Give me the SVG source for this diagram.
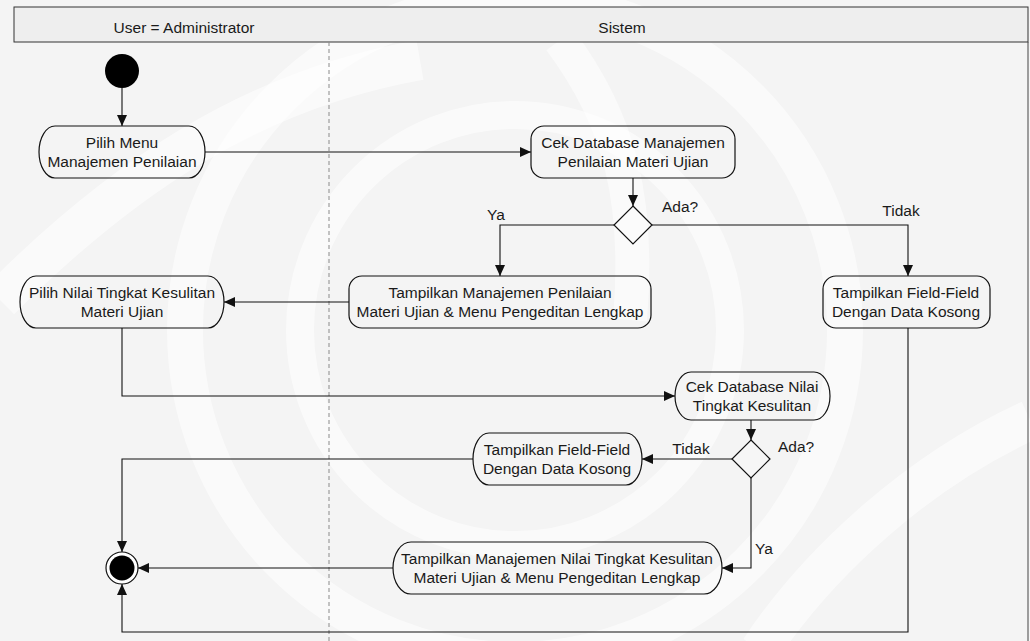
<svg xmlns="http://www.w3.org/2000/svg" width="1030" height="641" viewBox="0 0 1030 641">
  <style>
    .bg { fill: #f4f4f4; }
    .wm { fill: none; stroke: #ffffff; stroke-opacity: 0.55; }
    .hdr { fill: #eeeeee; stroke: #333333; stroke-width: 1; }
    .frame { stroke: #444444; stroke-width: 1; fill: none; }
    .lane { stroke: #8a8a8a; stroke-width: 1; stroke-dasharray: 4 3; fill: none; }
    .node { fill: none; stroke: #111111; stroke-width: 1.2; }
    .dec { fill: #ffffff; fill-opacity: 0.2; stroke: #111111; stroke-width: 1.2; }
    .edge { fill: none; stroke: #111111; stroke-width: 1.1; marker-end: url(#arrow); }
    text { font-family: "Liberation Sans", Arial, sans-serif; font-size: 15.5px; fill: #1a1a1a; }
    .c { text-anchor: middle; }
  </style>
  <defs>
    <marker id="arrow" markerUnits="userSpaceOnUse" markerWidth="12" markerHeight="10" refX="11" refY="5" orient="auto">
      <path d="M0,0 L11,5 L0,10 Z" fill="#111111"/>
    </marker>
  </defs>

  <!-- page background with faint emblem rings -->
  <rect class="bg" x="0" y="0" width="1030" height="641"/>
  <g id="watermark">
    <circle class="wm" cx="515" cy="330" r="330" stroke-width="36"/>
    <circle class="wm" cx="515" cy="330" r="215" stroke-width="28"/>
    <path class="wm" d="M0,300 C120,180 250,90 420,60" stroke-width="40"/>
    <path class="wm" d="M560,40 C620,120 640,200 630,320" stroke-width="34"/>
    <path class="wm" d="M760,650 C820,560 920,470 1030,420" stroke-width="40"/>
  </g>

  <!-- swimlane frame -->
  <g id="lanes">
    <rect class="hdr" x="14" y="7" width="1014" height="35"/>
    <line class="frame" x1="1028" y1="42" x2="1028" y2="641"/>
    <line class="lane" x1="329" y1="42" x2="329" y2="641"/>
    <text class="c" x="184" y="33">User = Administrator</text>
    <text class="c" x="622" y="33">Sistem</text>
  </g>

  <!-- connectors -->
  <g id="connectors">
    <path class="edge" d="M122,88 L122,126"/>
    <path class="edge" d="M205,152 L531,152"/>
    <path class="edge" d="M633,178 L633,206"/>
    <path class="edge" d="M614,225 L500,225 L500,276"/>
    <path class="edge" d="M652,225 L908,225 L908,276"/>
    <path class="edge" d="M349,302 L224,302"/>
    <path class="edge" d="M122,328 L122,396 L675,396"/>
    <path class="edge" d="M751,420 L751,440"/>
    <path class="edge" d="M732,459 L642,459"/>
    <path class="edge" d="M473,459 L122,459 L122,552"/>
    <path class="edge" d="M751,478 L751,568 L722,568"/>
    <path class="edge" d="M393,568 L138,568"/>
    <path class="edge" d="M908,328 L908,632 L122,632 L122,584"/>
    <text class="c" x="496" y="220">Ya</text>
    <text x="662" y="212">Ada?</text>
    <text class="c" x="901" y="216">Tidak</text>
    <text class="c" x="691" y="454">Tidak</text>
    <text x="778" y="452">Ada?</text>
    <text x="755" y="554">Ya</text>
  </g>

  <!-- nodes -->
  <g id="start">
    <circle cx="122" cy="71" r="17" fill="#000000"/>
  </g>
  <g id="pilih-menu">
    <rect class="node" x="39" y="126" width="166" height="52" rx="16" ry="26"/>
    <text class="c" x="122" y="148">Pilih Menu</text>
    <text class="c" x="122" y="167">Manajemen Penilaian</text>
  </g>
  <g id="cek-db-manajemen">
    <rect class="node" x="531" y="126" width="204" height="52" rx="13" ry="13"/>
    <text class="c" x="633" y="148">Cek Database Manajemen</text>
    <text class="c" x="633" y="167">Penilaian Materi Ujian</text>
  </g>
  <g id="dec-ada-1">
    <polygon class="dec" points="633,206 652,225 633,244 614,225"/>
  </g>
  <g id="tampil-manajemen-penilaian">
    <rect class="node" x="349" y="276" width="302" height="52" rx="13" ry="13"/>
    <text class="c" x="500" y="298">Tampilkan Manajemen Penilaian</text>
    <text class="c" x="500" y="317">Materi Ujian &amp; Menu Pengeditan Lengkap</text>
  </g>
  <g id="tampil-field-kosong-1">
    <rect class="node" x="823" y="276" width="167" height="52" rx="13" ry="13"/>
    <text class="c" x="906" y="298">Tampilkan Field-Field</text>
    <text class="c" x="906" y="317">Dengan Data Kosong</text>
  </g>
  <g id="pilih-nilai">
    <rect class="node" x="20" y="276" width="204" height="52" rx="16" ry="26"/>
    <text class="c" x="122" y="298">Pilih Nilai Tingkat Kesulitan</text>
    <text class="c" x="122" y="317">Materi Ujian</text>
  </g>
  <g id="cek-db-nilai">
    <rect class="node" x="675" y="372" width="155" height="48" rx="16" ry="24"/>
    <text class="c" x="752" y="392">Cek Database Nilai</text>
    <text class="c" x="752" y="411">Tingkat Kesulitan</text>
  </g>
  <g id="dec-ada-2">
    <polygon class="dec" points="751,440 770,459 751,478 732,459"/>
  </g>
  <g id="tampil-field-kosong-2">
    <rect class="node" x="473" y="433" width="169" height="52" rx="16" ry="26"/>
    <text class="c" x="557" y="455">Tampilkan Field-Field</text>
    <text class="c" x="557" y="474">Dengan Data Kosong</text>
  </g>
  <g id="tampil-manajemen-nilai">
    <rect class="node" x="393" y="542" width="329" height="52" rx="18" ry="26"/>
    <text class="c" x="557" y="564">Tampilkan Manajemen Nilai Tingkat Kesulitan</text>
    <text class="c" x="557" y="583">Materi Ujian &amp; Menu Pengeditan Lengkap</text>
  </g>
  <g id="end">
    <circle cx="122" cy="568" r="16" fill="#ffffff" stroke="#111111" stroke-width="1.2"/>
    <circle cx="122" cy="568" r="12.5" fill="#000000"/>
  </g>
</svg>
